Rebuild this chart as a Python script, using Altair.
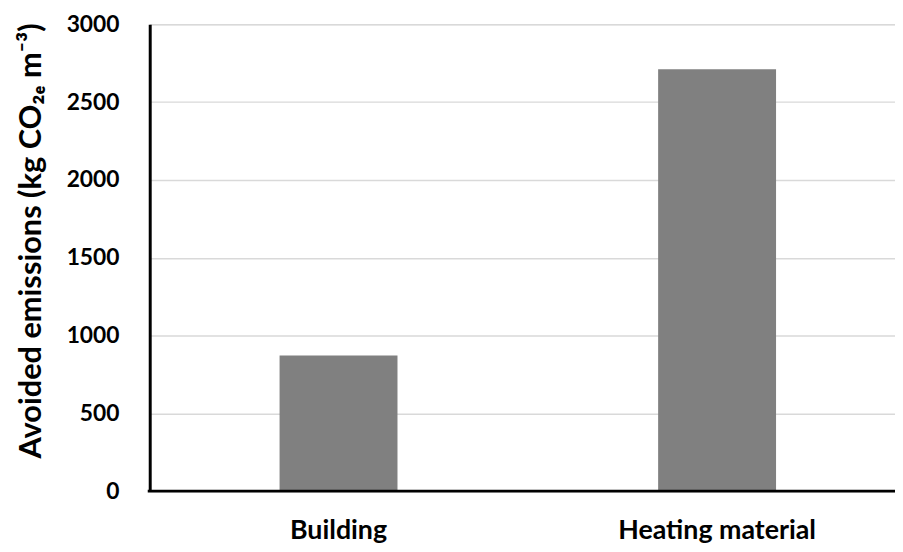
import altair as alt
import pandas as pd

categories = ["Building", "Heating material"]
avoided = [872, 2712]
y_ticks = [0, 500, 1000, 1500, 2000, 2500, 3000]

df = pd.DataFrame({"category": categories, "value": avoided})

FONT = "Lato"
W, H = 752, 471

bars = alt.Chart(df).mark_bar(color="#808080").encode(
    x=alt.X(
        "category:N",
        sort=categories,
        scale=alt.Scale(range=[0, 763], paddingInner=0.6885, paddingOuter=0.343),
        axis=alt.Axis(
            title=None, domain=False, ticks=False, labelAngle=0,
            labelFont=FONT, labelFontSize=27, labelFontWeight="bold",
            labelColor="#000000", labelPadding=27, labelLimit=0, grid=False,
        ),
    ),
    y=alt.Y(
        "value:Q",
        scale=alt.Scale(domain=[0, 3000], nice=False),
        axis=alt.Axis(
            values=y_ticks,
            format="d",
            title="Avoided emissions (kg CO₂ₑ m⁻³)",
            titleFont=FONT, titleFontSize=31, titleFontWeight="bold",
            titleColor="#000000", titlePadding=19, titleY=218,
            labelFont=FONT, labelFontSize=23, labelFontWeight="bold",
            labelColor="#000000", labelPadding=31,
            ticks=False, domain=True, domainColor="#000000", domainWidth=3,
            grid=True, gridColor="#d9d9d9", gridWidth=1.5,
        ),
    ),
)

xline = alt.Chart(pd.DataFrame({"v": [0]})).mark_rule(color="#000000", strokeWidth=3).encode(
    x=alt.value(-2),
    x2=alt.value(W),
    y=alt.Y("v:Q"),
)

chart = alt.layer(bars, xline).properties(
    width=W,
    height=H,
    autosize=alt.AutoSizeParams(type="none"),
    padding={"left": 143, "top": 14, "right": 0, "bottom": 64},
).configure_view(stroke=None).configure(background="#ffffff")

chart.save("out.html", embed_options={"renderer": "svg", "actions": False})
